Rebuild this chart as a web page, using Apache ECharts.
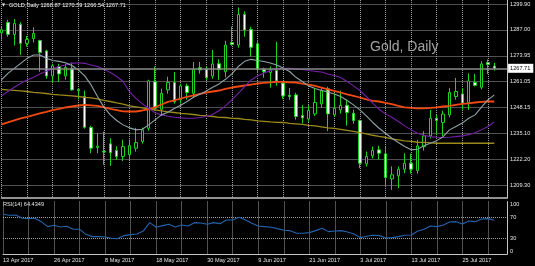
<!DOCTYPE html>
<html><head><meta charset="utf-8">
<script src="https://cdn.jsdelivr.net/npm/echarts@6/dist/echarts.min.js"></script>
<style>html,body{margin:0;padding:0;background:#000}#c{width:535px;height:266px}</style>
</head><body><div id="c"></div>
<script>
const dates = ['13 Apr 2017','17 Apr 2017','18 Apr 2017','19 Apr 2017','20 Apr 2017','21 Apr 2017','24 Apr 2017','25 Apr 2017','26 Apr 2017','27 Apr 2017',
'28 Apr 2017','1 May 2017','2 May 2017','3 May 2017','4 May 2017','5 May 2017','8 May 2017','9 May 2017','10 May 2017','11 May 2017',
'12 May 2017','15 May 2017','16 May 2017','17 May 2017','18 May 2017','19 May 2017','22 May 2017','23 May 2017','24 May 2017','25 May 2017',
'26 May 2017','29 May 2017','30 May 2017','31 May 2017','1 Jun 2017','2 Jun 2017','5 Jun 2017','6 Jun 2017','7 Jun 2017','8 Jun 2017',
'9 Jun 2017','12 Jun 2017','13 Jun 2017','14 Jun 2017','15 Jun 2017','16 Jun 2017','19 Jun 2017','20 Jun 2017','21 Jun 2017','22 Jun 2017',
'23 Jun 2017','26 Jun 2017','27 Jun 2017','28 Jun 2017','29 Jun 2017','30 Jun 2017','3 Jul 2017','4 Jul 2017','5 Jul 2017','6 Jul 2017',
'7 Jul 2017','10 Jul 2017','11 Jul 2017','12 Jul 2017','13 Jul 2017','14 Jul 2017','17 Jul 2017','18 Jul 2017','19 Jul 2017','20 Jul 2017',
'21 Jul 2017','24 Jul 2017','25 Jul 2017','26 Jul 2017','27 Jul 2017','28 Jul 2017','31 Jul 2017','1 Aug 2017'];

const openP = [1285.5,1290.6,1284.6,1289.7,1280.2,1282.6,1281.6,1276.4,1263.9,1268.6,
1263.9,1267.7,1256.5,1253.6,1238.1,1228.0,1226.2,1229.9,1226.6,1223.6,
1224.5,1227.7,1231.1,1237.7,1261.0,1247.2,1256.9,1260.6,1251.9,1258.9,
1255.2,1268.0,1267.4,1263.8,1270.0,1266.0,1280.6,1279.4,1294.7,1287.2,
1280.0,1267.2,1265.6,1266.6,1260.3,1254.2,1254.4,1244.1,1242.3,1244.9,
1249.9,1257.5,1244.4,1246.9,1249.2,1245.2,1241.6,1219.9,1223.9,1226.9,
1224.9,1212.4,1213.9,1217.2,1220.2,1216.6,1228.5,1233.9,1242.7,1240.6,
1244.4,1253.6,1254.9,1250.6,1260.6,1258.2,1270.6,1268.87];
const highP = [1288.5,1292.0,1292.4,1290.8,1283.9,1288.2,1282.0,1277.0,1270.0,1270.0,
1270.0,1270.6,1257.7,1256.6,1239.0,1235.3,1236.0,1232.7,1228.7,1232.0,
1232.0,1237.9,1238.0,1262.0,1268.6,1257.5,1263.5,1265.9,1260.0,1260.0,
1270.9,1270.9,1268.6,1276.9,1272.2,1281.4,1288.6,1298.2,1296.2,1288.5,
1282.0,1268.0,1268.6,1281.0,1261.0,1257.9,1255.5,1249.2,1249.3,1257.9,
1258.0,1258.5,1255.0,1256.5,1252.0,1247.0,1242.0,1226.1,1228.6,1229.0,
1228.5,1218.6,1218.6,1225.2,1225.0,1232.0,1236.2,1246.9,1244.3,1246.5,
1257.9,1262.9,1257.9,1265.2,1264.9,1271.3,1272.1,1270.59];
const lowP = [1282.0,1283.5,1279.1,1274.4,1278.6,1280.6,1266.0,1262.5,1260.6,1261.0,
1262.0,1256.5,1252.2,1237.5,1225.2,1225.2,1219.4,1218.9,1221.9,1221.3,
1222.0,1226.0,1230.0,1236.5,1246.5,1244.0,1255.0,1250.0,1250.0,1252.0,
1253.0,1265.0,1261.9,1262.5,1262.0,1263.2,1279.0,1278.0,1283.5,1273.6,
1265.5,1263.0,1258.0,1259.0,1252.5,1251.9,1242.0,1240.2,1241.0,1243.9,
1248.0,1236.3,1243.5,1245.0,1239.0,1240.0,1217.7,1218.6,1222.6,1222.0,
1208.5,1206.9,1207.7,1215.2,1215.0,1215.0,1226.5,1232.6,1234.4,1233.8,
1243.2,1252.0,1247.0,1246.9,1258.6,1257.2,1264.9,1266.54];
const closeP = [1287.0,1284.7,1290.2,1280.2,1282.2,1285.2,1275.7,1263.9,1269.0,1264.9,
1268.2,1256.9,1257.2,1238.2,1227.7,1228.8,1225.8,1225.5,1223.6,1228.5,
1229.0,1230.6,1236.9,1261.4,1247.7,1255.2,1260.6,1251.0,1258.9,1255.6,
1267.2,1266.9,1263.0,1269.9,1267.0,1279.4,1279.6,1294.7,1286.9,1278.2,
1267.2,1266.0,1266.9,1261.4,1253.9,1253.6,1243.6,1242.9,1246.6,1250.6,
1256.6,1244.9,1247.7,1249.2,1245.6,1241.6,1220.2,1223.6,1226.6,1225.2,
1213.0,1214.4,1217.2,1220.2,1217.2,1228.9,1233.9,1242.7,1241.6,1244.8,
1255.6,1256.1,1250.3,1261.4,1259.2,1269.9,1269.6,1267.71];

const maGray = [1261.9,1265.2,1267.7,1270.2,1272.7,1274.4,1274.4,1272.7,1271.6,1271.2,
1270.5,1269.1,1266.9,1263.9,1259.4,1253.6,1248.3,1244.4,1241.6,1239.4,
1237.9,1236.9,1237.2,1239.4,1241.9,1244.4,1245.7,1247.6,1249.2,1251.1,
1253.2,1254.7,1256.4,1258.2,1259.9,1262.2,1264.9,1268.6,1271.2,1272.2,
1271.6,1271.1,1270.4,1269.4,1267.9,1266.1,1263.2,1261.1,1258.9,1257.6,
1256.6,1255.9,1254.9,1253.6,1251.6,1249.4,1246.9,1243.9,1240.6,1237.7,
1235.2,1232.7,1230.6,1228.6,1226.9,1227.2,1228.9,1230.2,1231.5,1233.5,
1236.9,1238.6,1240.3,1242.7,1244.4,1248.3,1251.9,1254.4];
const maPurple = [1253.9,1256.1,1258.2,1260.2,1261.9,1263.2,1264.9,1266.2,1267.5,1268.6,
1269.4,1270.2,1270.5,1270.2,1269.4,1268.6,1267.2,1265.6,1263.6,1261.1,
1256.0,1252.7,1249.9,1247.7,1245.5,1244.4,1243.7,1243.2,1242.9,1242.7,
1242.7,1243.1,1243.6,1244.6,1246.6,1248.9,1251.9,1255.2,1258.6,1261.9,
1263.9,1265.2,1266.6,1267.4,1267.7,1267.7,1267.4,1267.1,1266.6,1266.2,
1265.9,1264.9,1264.1,1263.1,1261.1,1258.9,1256.6,1253.6,1250.3,1247.2,
1244.9,1243.2,1241.1,1238.9,1236.9,1235.2,1234.2,1233.5,1233.2,1233.1,
1233.2,1233.5,1233.9,1234.5,1235.5,1236.9,1238.6,1240.9];
const maOrange = [1239.6,1240.6,1241.6,1242.6,1243.4,1244.3,1245.1,1245.9,1246.8,1247.4,
1248.1,1248.6,1249.1,1249.4,1249.2,1248.9,1248.2,1247.4,1246.8,1246.2,
1246.1,1246.1,1246.6,1247.2,1248.2,1249.6,1250.9,1251.7,1252.6,1253.4,
1254.2,1254.9,1255.6,1256.1,1256.6,1257.4,1258.1,1258.6,1259.1,1259.6,
1260.1,1260.4,1260.7,1260.9,1260.9,1260.7,1260.6,1260.1,1259.6,1258.9,
1258.1,1257.2,1256.4,1255.6,1254.7,1253.9,1253.1,1252.2,1251.4,1251.1,
1250.4,1249.8,1248.9,1248.2,1247.9,1247.7,1247.7,1247.9,1248.2,1248.6,
1248.9,1249.4,1249.9,1250.2,1250.6,1250.9,1251.1,1251.1];
const maOlive = [1257.2,1256.9,1256.7,1256.4,1256.1,1255.7,1255.4,1255.1,1254.7,1254.4,
1254.2,1253.9,1253.6,1253.2,1252.9,1252.4,1251.7,1251.1,1250.4,1249.8,
1248.9,1248.4,1247.9,1247.4,1246.9,1246.4,1245.9,1245.6,1245.2,1244.9,
1244.6,1244.2,1243.9,1243.6,1243.2,1243.1,1242.7,1242.6,1242.2,1241.9,
1241.4,1241.2,1240.9,1240.7,1240.6,1240.2,1239.9,1239.6,1239.2,1238.9,
1238.4,1237.9,1237.6,1237.1,1236.6,1236.1,1235.5,1234.9,1234.2,1233.6,
1233.1,1232.4,1231.9,1231.4,1231.1,1230.7,1230.6,1230.4,1230.2,1230.2,
1230.2,1230.2,1230.2,1230.2,1230.2,1230.2,1230.2,1230.2];
const rsi = [75.7,73.8,74.4,68.1,67.5,68.1,61.7,52.2,54.8,51.6,
52.9,47.1,47.1,37.6,33.2,33.2,32.5,30.0,29.4,35.1,
37.0,38.3,44.0,59.8,51.0,54.1,56.7,51.6,55.4,53.5,
59.8,59.2,56.7,59.8,57.9,64.9,64.9,70.0,64.9,58.6,
53.5,52.2,51.0,48.4,45.2,44.6,39.5,39.5,40.8,44.6,
49.0,42.7,44.0,44.6,42.1,38.3,31.3,33.8,35.7,35.1,
30.6,31.3,33.2,35.7,36.3,44.0,47.1,53.5,52.2,55.4,
61.1,61.7,57.3,63.0,61.7,66.8,67.5,64.4349];

const priceTicks = [1209.30,1222.20,1235.10,1248.15,1261.05,1273.95,1287.00,1299.90];
const rsiLabelTicks = [0,30,70,100];
const rsiLevels = [30,70];

const F = '"Liberation Sans", Arial, sans-serif';
const GREEN = '#1fd21f';
const dotted = {show:true, lineStyle:{color:'#a0a0a0', type:[1,1], width:1}};
const last = closeP.length - 1;
const candles = openP.map((o,i)=>[o, closeP[i], lowP[i], highP[i]]);
const header = 'GOLD,Daily ' + [openP[last],highP[last],lowP[last],closeP[last]].map(v=>v.toFixed(2)).join(' ');

const chart = echarts.init(document.getElementById('c'), null, {renderer:'canvas'});
chart.setOption({
  backgroundColor:'#000',
  animation:false,
  grid:[
    {left:1.5, top:0, width:505.6, height:198},
    {left:1.5, top:201.55, width:505.6, height:52.5}
  ],
  xAxis:[
    {type:'category', gridIndex:0, data:dates, boundaryGap:false, max:79,
     axisLine:{show:true, lineStyle:{color:'#c4c4c4', width:1.5}}, axisTick:{show:false}, axisLabel:{show:false},
     splitLine:Object.assign({interval:3}, dotted)},
    {type:'category', gridIndex:1, data:dates, boundaryGap:false, max:79,
     axisLine:{show:true, lineStyle:{color:'#c4c4c4', width:1}}, axisTick:{show:false},
     axisLabel:{show:true, interval:7, align:'left', color:'#e6e6e6', fontSize:5.6, fontFamily:F, margin:3},
     splitLine:Object.assign({interval:3}, dotted)}
  ],
  yAxis:[
    {type:'value', gridIndex:0, position:'right', min:1202.8, max:1301.9, scale:true,
     axisLine:{show:true, lineStyle:{color:'#c4c4c4', width:1}},
     axisTick:{show:false, customValues:priceTicks},
     axisLabel:{customValues:priceTicks, formatter:v=>v.toFixed(2), color:'#e6e6e6', fontSize:5.6, fontFamily:F, margin:3},
     splitLine:dotted},
    {type:'value', gridIndex:1, position:'right', min:0, max:100,
     axisLine:{show:true, lineStyle:{color:'#c4c4c4', width:1}},
     axisTick:{show:false, customValues:rsiLevels},
     axisLabel:{customValues:rsiLabelTicks, color:'#e6e6e6', fontSize:5.6, fontFamily:F, margin:3,
       formatter:v=> v===100 ? '{t|100}' : (v===0 ? '{b|0}' : '{n|'+v+'}'),
       rich:{t:{padding:[6,0,0,0], fontSize:5.6, color:'#e6e6e6'}, b:{padding:[0,0,6,0], fontSize:5.6, color:'#e6e6e6'}, n:{fontSize:5.6, color:'#e6e6e6'}}},
     splitLine:dotted}
  ],
  graphic:[
    {type:'text', x:2, y:5, style:{text:'▼', fill:'#ffffff', font:'4px "DejaVu Sans"', verticalAlign:'middle'}},
    {type:'text', x:9, y:5, style:{text:header, fill:'#ffffff', font:'5.6px '+F, verticalAlign:'middle'}},
    {type:'text', x:370, y:47, style:{text:'Gold, Daily', fill:'#a3a3a3', font:'14px '+F, verticalAlign:'middle'}},
    {type:'text', x:3, y:204.5, style:{text:'RSI(14) ' + rsi[last].toFixed(4), fill:'#e6e6e6', font:'5.6px '+F, verticalAlign:'middle'}}
  ],
  series:[
    {type:'candlestick', xAxisIndex:0, yAxisIndex:0, data:candles, barWidth:3, clip:false,
     itemStyle:{color:'#000', color0:'#fff', borderColor:GREEN, borderColor0:GREEN, borderWidth:1},
     markLine:{silent:true, symbol:'none', animation:false,
       lineStyle:{color:'#8a8a8a', type:'solid', width:1.5},
       label:{show:true, position:'end', distance:1, formatter:p=>p.value.toFixed(2), backgroundColor:'#ffffff', color:'#000', fontSize:5.6, fontFamily:F, padding:[2,3,1,2]},
       data:[{yAxis:closeP[last]}]}},
    {type:'line', xAxisIndex:0, yAxisIndex:0, data:maOlive, symbol:'none', lineStyle:{color:'#9c8a1c', width:1.3}},
    {type:'line', xAxisIndex:0, yAxisIndex:0, data:maOrange, symbol:'none', lineStyle:{color:'#f04a12', width:1.8}},
    {type:'line', xAxisIndex:0, yAxisIndex:0, data:maPurple, symbol:'none', lineStyle:{color:'#7420a8', width:1.1}},
    {type:'line', xAxisIndex:0, yAxisIndex:0, data:maGray, symbol:'none', lineStyle:{color:'#8fa2a6', width:1.1}},
    {type:'line', xAxisIndex:1, yAxisIndex:1, data:rsi, symbol:'none', lineStyle:{color:'#2564ad', width:1.1}}
  ]
});
</script></body></html>
